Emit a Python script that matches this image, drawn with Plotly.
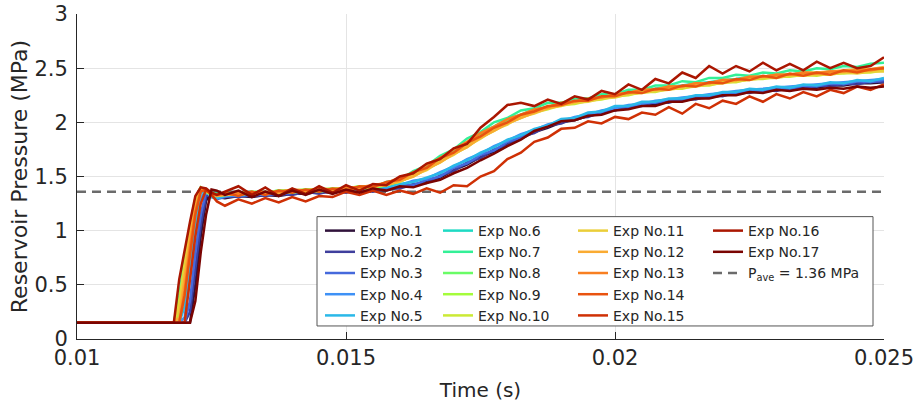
import plotly.graph_objects as go
import plotly.express as px
from plotly.colors import sample_colorscale

# ---------------- data ----------------
TIME = [0.0100, 0.0118, 0.0119, 0.0120, 0.0121, 0.0122, 0.0123, 0.0124, 0.0125, 0.0126,
        0.01275, 0.01300, 0.01325, 0.01350, 0.01375, 0.01400, 0.01425, 0.01450, 0.01475, 0.01500,
        0.01525, 0.01550, 0.01575, 0.01600, 0.01625, 0.01650, 0.01675, 0.01700, 0.01725, 0.01750,
        0.01775, 0.01800, 0.01825, 0.01850, 0.01875, 0.01900, 0.01925, 0.01950, 0.01975, 0.02000,
        0.02025, 0.02050, 0.02075, 0.02100, 0.02125, 0.02150, 0.02175, 0.02200, 0.02225, 0.02250,
        0.02275, 0.02300, 0.02325, 0.02350, 0.02375, 0.02400, 0.02425, 0.02450, 0.02475, 0.02500]

EXP1 = [0.15, 0.15, 0.15, 0.15, 0.15, 0.50, 0.95, 1.28, 1.34, 1.31,
        1.30, 1.32, 1.31, 1.33, 1.32, 1.34, 1.34, 1.36, 1.35, 1.37, 1.36, 1.38, 1.37, 1.40, 1.41, 1.45, 1.49, 1.56, 1.61, 1.68,
        1.73, 1.80, 1.85, 1.91, 1.95, 2.00, 2.02, 2.06, 2.08, 2.12, 2.13, 2.16, 2.17, 2.19, 2.20, 2.22, 2.23, 2.25, 2.26, 2.28,
        2.28, 2.30, 2.30, 2.32, 2.32, 2.34, 2.34, 2.36, 2.36, 2.37]
EXP2 = [0.15, 0.15, 0.15, 0.15, 0.25, 0.65, 1.05, 1.32, 1.33, 1.30,
        1.32, 1.31, 1.33, 1.32, 1.34, 1.33, 1.36, 1.34, 1.37, 1.35, 1.38, 1.36, 1.39, 1.39, 1.43, 1.44, 1.51, 1.55, 1.63, 1.67,
        1.75, 1.79, 1.87, 1.90, 1.97, 1.99, 2.04, 2.05, 2.10, 2.11, 2.15, 2.15, 2.19, 2.18, 2.22, 2.21, 2.25, 2.24, 2.28, 2.27,
        2.30, 2.29, 2.32, 2.31, 2.34, 2.33, 2.36, 2.35, 2.38, 2.37]
EXP3 = [0.15, 0.15, 0.15, 0.15, 0.35, 0.80, 1.15, 1.36, 1.32, 1.29,
        1.31, 1.33, 1.32, 1.34, 1.33, 1.35, 1.35, 1.37, 1.36, 1.38, 1.37, 1.39, 1.38, 1.42, 1.42, 1.47, 1.50, 1.58, 1.62, 1.70,
        1.74, 1.82, 1.86, 1.93, 1.96, 2.02, 2.03, 2.08, 2.09, 2.14, 2.14, 2.18, 2.18, 2.21, 2.21, 2.24, 2.24, 2.27, 2.27, 2.30,
        2.29, 2.32, 2.31, 2.34, 2.33, 2.36, 2.35, 2.38, 2.37, 2.39]
EXP4 = [0.15, 0.15, 0.15, 0.20, 0.55, 0.95, 1.30, 1.37, 1.31, 1.30,
        1.33, 1.32, 1.34, 1.33, 1.35, 1.35, 1.37, 1.36, 1.38, 1.37, 1.39, 1.38, 1.41, 1.42, 1.46, 1.48, 1.54, 1.59, 1.66, 1.71,
        1.78, 1.83, 1.89, 1.93, 1.98, 2.01, 2.05, 2.07, 2.11, 2.13, 2.16, 2.17, 2.20, 2.21, 2.23, 2.24, 2.26, 2.27, 2.29, 2.30,
        2.31, 2.32, 2.33, 2.34, 2.35, 2.36, 2.37, 2.38, 2.39, 2.40]
EXP5 = [0.15, 0.15, 0.15, 0.30, 0.70, 1.05, 1.35, 1.36, 1.31, 1.30,
        1.32, 1.34, 1.33, 1.35, 1.34, 1.36, 1.36, 1.38, 1.37, 1.39, 1.38, 1.40, 1.40, 1.43, 1.45, 1.49, 1.53, 1.60, 1.65, 1.72,
        1.77, 1.84, 1.88, 1.94, 1.97, 2.03, 2.04, 2.09, 2.10, 2.15, 2.15, 2.19, 2.19, 2.22, 2.22, 2.25, 2.25, 2.28, 2.28, 2.31,
        2.30, 2.33, 2.32, 2.35, 2.34, 2.37, 2.36, 2.39, 2.38, 2.41]
EXP6 = [0.15, 0.15, 0.20, 0.50, 0.90, 1.20, 1.38, 1.36, 1.33, 1.32,
        1.33, 1.35, 1.34, 1.36, 1.35, 1.37, 1.36, 1.38, 1.37, 1.39, 1.39, 1.41, 1.42, 1.47, 1.52, 1.59, 1.66, 1.74, 1.81, 1.90,
        1.96, 2.03, 2.07, 2.12, 2.14, 2.18, 2.19, 2.22, 2.23, 2.26, 2.27, 2.30, 2.31, 2.33, 2.34, 2.36, 2.37, 2.39, 2.40, 2.42,
        2.42, 2.44, 2.44, 2.46, 2.45, 2.47, 2.47, 2.49, 2.48, 2.50]
EXP7 = [0.15, 0.15, 0.40, 0.75, 1.05, 1.30, 1.40, 1.37, 1.35, 1.34,
        1.35, 1.34, 1.36, 1.35, 1.37, 1.36, 1.38, 1.37, 1.39, 1.38, 1.41, 1.40, 1.45, 1.47, 1.55, 1.60, 1.69, 1.75, 1.85, 1.91,
        2.00, 2.04, 2.11, 2.13, 2.18, 2.18, 2.22, 2.22, 2.26, 2.26, 2.30, 2.30, 2.34, 2.34, 2.38, 2.37, 2.41, 2.41, 2.44, 2.43,
        2.46, 2.45, 2.48, 2.47, 2.50, 2.49, 2.52, 2.51, 2.54, 2.55]
EXP8 = [0.15, 0.15, 0.30, 0.65, 0.98, 1.25, 1.39, 1.36, 1.33, 1.33,
        1.34, 1.33, 1.35, 1.34, 1.36, 1.35, 1.37, 1.36, 1.38, 1.37, 1.39, 1.39, 1.42, 1.45, 1.51, 1.57, 1.65, 1.72, 1.80, 1.88,
        1.95, 2.01, 2.06, 2.10, 2.13, 2.16, 2.18, 2.20, 2.22, 2.24, 2.26, 2.28, 2.30, 2.31, 2.33, 2.35, 2.36, 2.38, 2.39, 2.41,
        2.42, 2.43, 2.44, 2.45, 2.46, 2.46, 2.47, 2.48, 2.49, 2.50]
EXP9 = [0.15, 0.15, 0.25, 0.60, 0.95, 1.25, 1.39, 1.36, 1.34, 1.33,
        1.35, 1.34, 1.36, 1.35, 1.37, 1.37, 1.38, 1.38, 1.39, 1.39, 1.41, 1.41, 1.44, 1.46, 1.52, 1.57, 1.65, 1.71, 1.79, 1.86,
        1.94, 1.99, 2.06, 2.09, 2.14, 2.16, 2.19, 2.20, 2.23, 2.24, 2.27, 2.28, 2.30, 2.31, 2.33, 2.34, 2.36, 2.37, 2.39, 2.40,
        2.42, 2.42, 2.44, 2.44, 2.45, 2.45, 2.47, 2.46, 2.48, 2.48]
EXP10 = [0.15, 0.15, 0.35, 0.70, 1.00, 1.28, 1.39, 1.36, 1.33, 1.32,
         1.33, 1.35, 1.34, 1.35, 1.35, 1.37, 1.36, 1.38, 1.37, 1.39, 1.39, 1.41, 1.42, 1.46, 1.50, 1.57, 1.63, 1.71, 1.77, 1.86,
         1.92, 1.99, 2.04, 2.09, 2.12, 2.16, 2.17, 2.20, 2.21, 2.24, 2.25, 2.28, 2.28, 2.31, 2.31, 2.34, 2.34, 2.37, 2.37, 2.40,
         2.40, 2.42, 2.42, 2.44, 2.43, 2.45, 2.45, 2.46, 2.46, 2.48]
EXP11 = [0.15, 0.15, 0.30, 0.65, 1.00, 1.30, 1.40, 1.37, 1.34, 1.33,
         1.34, 1.33, 1.35, 1.34, 1.36, 1.36, 1.37, 1.37, 1.38, 1.38, 1.40, 1.40, 1.43, 1.45, 1.51, 1.56, 1.64, 1.70, 1.78, 1.85,
         1.93, 1.98, 2.05, 2.08, 2.13, 2.15, 2.18, 2.19, 2.22, 2.23, 2.26, 2.27, 2.29, 2.30, 2.32, 2.33, 2.35, 2.36, 2.38, 2.39,
         2.41, 2.41, 2.43, 2.43, 2.44, 2.44, 2.46, 2.45, 2.47, 2.47]
EXP12 = [0.15, 0.15, 0.20, 0.55, 0.92, 1.22, 1.38, 1.37, 1.34, 1.32,
         1.33, 1.34, 1.34, 1.35, 1.35, 1.36, 1.37, 1.37, 1.38, 1.39, 1.39, 1.41, 1.42, 1.46, 1.50, 1.57, 1.63, 1.71, 1.77, 1.86,
         1.92, 1.99, 2.04, 2.09, 2.13, 2.16, 2.19, 2.21, 2.23, 2.26, 2.27, 2.30, 2.30, 2.33, 2.33, 2.36, 2.36, 2.39, 2.39, 2.42,
         2.42, 2.44, 2.44, 2.46, 2.46, 2.47, 2.48, 2.49, 2.49, 2.51]
EXP13 = [0.15, 0.15, 0.15, 0.45, 0.85, 1.18, 1.37, 1.37, 1.34, 1.33,
         1.34, 1.35, 1.35, 1.36, 1.36, 1.38, 1.37, 1.39, 1.38, 1.40, 1.40, 1.42, 1.44, 1.49, 1.53, 1.61, 1.67, 1.75, 1.82, 1.90,
         1.96, 2.03, 2.07, 2.12, 2.14, 2.18, 2.19, 2.22, 2.23, 2.26, 2.27, 2.30, 2.30, 2.33, 2.33, 2.36, 2.36, 2.39, 2.39, 2.42,
         2.42, 2.44, 2.44, 2.46, 2.45, 2.47, 2.47, 2.48, 2.48, 2.50]
EXP14 = [0.15, 0.15, 0.15, 0.40, 0.80, 1.15, 1.36, 1.38, 1.35, 1.33,
         1.35, 1.32, 1.36, 1.33, 1.37, 1.35, 1.38, 1.36, 1.39, 1.37, 1.41, 1.40, 1.45, 1.47, 1.54, 1.58, 1.67, 1.72, 1.81, 1.87,
         1.95, 2.00, 2.07, 2.10, 2.15, 2.16, 2.20, 2.20, 2.24, 2.24, 2.28, 2.27, 2.31, 2.30, 2.34, 2.33, 2.37, 2.36, 2.40, 2.39,
         2.43, 2.41, 2.45, 2.43, 2.46, 2.44, 2.48, 2.46, 2.49, 2.50]
EXP15 = [0.15, 0.15, 0.15, 0.15, 0.55, 0.95, 1.25, 1.38, 1.33, 1.27,
         1.23, 1.29, 1.25, 1.30, 1.26, 1.31, 1.27, 1.32, 1.31, 1.36, 1.33, 1.37, 1.33, 1.37, 1.34, 1.39, 1.35, 1.42, 1.41, 1.50,
         1.55, 1.66, 1.72, 1.82, 1.86, 1.94, 1.95, 2.01, 1.99, 2.05, 2.03, 2.09, 2.07, 2.14, 2.08, 2.17, 2.13, 2.20, 2.17, 2.24,
         2.19, 2.26, 2.22, 2.28, 2.24, 2.30, 2.27, 2.33, 2.30, 2.35]
EXP16 = [0.15, 0.15, 0.55, 0.82, 1.08, 1.32, 1.40, 1.39, 1.35, 1.33,
         1.36, 1.41, 1.33, 1.40, 1.32, 1.39, 1.34, 1.41, 1.35, 1.42, 1.37, 1.43, 1.42, 1.50, 1.53, 1.62, 1.66, 1.76, 1.80, 1.95,
         2.05, 2.16, 2.18, 2.15, 2.21, 2.17, 2.24, 2.21, 2.29, 2.26, 2.35, 2.30, 2.40, 2.36, 2.46, 2.41, 2.52, 2.45, 2.52, 2.47,
         2.55, 2.48, 2.54, 2.48, 2.56, 2.50, 2.55, 2.50, 2.52, 2.60]
EXP17 = [0.15, 0.15, 0.15, 0.15, 0.15, 0.35, 0.80, 1.15, 1.38, 1.37,
         1.33, 1.37, 1.31, 1.36, 1.32, 1.37, 1.33, 1.38, 1.34, 1.38, 1.35, 1.39, 1.37, 1.41, 1.40, 1.44, 1.47, 1.53, 1.58, 1.65,
         1.71, 1.78, 1.84, 1.92, 1.96, 2.01, 2.02, 2.06, 2.07, 2.11, 2.12, 2.15, 2.15, 2.19, 2.19, 2.22, 2.22, 2.25, 2.25, 2.28,
         2.27, 2.30, 2.29, 2.31, 2.30, 2.32, 2.31, 2.33, 2.32, 2.33]

SERIES = [EXP1, EXP2, EXP3, EXP4, EXP5, EXP6, EXP7, EXP8, EXP9, EXP10,
          EXP11, EXP12, EXP13, EXP14, EXP15, EXP16, EXP17]
LABELS = ["Exp No.%d" % i for i in range(1, 18)]
P_AVE = 1.36
P_AVE_LABEL = "P<sub>ave</sub> = 1.36 MPa"
X_RANGE = [0.01, 0.025]
X_TICKS = [0.01, 0.015, 0.02, 0.025]
X_TICK_TEXT = ["0.01", "0.015", "0.02", "0.025"]
Y_RANGE = [0, 3]
Y_TICKS = [0, 0.5, 1, 1.5, 2, 2.5, 3]
Y_TICK_TEXT = ["0", "0.5", "1", "1.5", "2", "2.5", "3"]

for s in SERIES:
    assert len(s) == len(TIME), len(s)

# ---------------- figure ----------------
FONT = "DejaVu Sans"
TXT = "#262626"
EPS_X = 1e-7
EPS_Y = 1e-4
colors = sample_colorscale(px.colors.sequential.Turbo, len(SERIES))
legend_names = ["legend", "legend", "legend", "legend", "legend",
                "legend2", "legend2", "legend2", "legend2", "legend2",
                "legend3", "legend3", "legend3", "legend3", "legend3",
                "legend4", "legend4"]

fig = go.Figure()
# average pressure line (drawn beneath the experiments, listed last in its legend column)
fig.add_trace(go.Scatter(x=[X_RANGE[0], X_RANGE[1]], y=[P_AVE, P_AVE], mode="lines",
                         name=P_AVE_LABEL, legend="legend4", legendrank=100,
                         line=dict(color="#6b6b6b", width=2.5, dash="9px,6px")))
for i, (s, lab) in enumerate(zip(SERIES, LABELS)):
    fig.add_trace(go.Scatter(x=TIME, y=s, mode="lines", name=lab,
                             legend=legend_names[i], legendrank=i + 1,
                             line=dict(color=colors[i], width=2.5)))

# plot area: x 77..884, y 14..339 px
PL, PR = 77, 884
leg_common = dict(yanchor="top", xanchor="left", orientation="v",
                  bgcolor="rgba(0,0,0,0)", borderwidth=0, itemwidth=30,
                  font=dict(family=FONT, size=14, color=TXT), tracegroupgap=0)
LEG_Y = 0.3815
W = PR - PL
fig.update_layout(
    legend=dict(x=(320 - PL) / W, y=LEG_Y, **leg_common),
    legend2=dict(x=(438 - PL) / W, y=LEG_Y, **leg_common),
    legend3=dict(x=(573 - PL) / W, y=LEG_Y, **leg_common),
    legend4=dict(x=(708 - PL) / W, y=LEG_Y, **leg_common),
)

fig.add_shape(type="rect", xref="paper", yref="paper",
              x0=(317 - PL) / W, x1=(873 - PL) / W, y0=0.0401, y1=0.3765,
              line=dict(color="#555555", width=1), fillcolor="white", layer="above")

axis_common = dict(showline=True, linecolor=TXT, linewidth=1, ticks="inside", ticklen=7,
                   tickcolor=TXT, tickwidth=1, showgrid=True, gridcolor="#e4e4e4", gridwidth=1,
                   zeroline=False, automargin=False, ticklabeloverflow="allow",
                   tickfont=dict(family=FONT, size=21, color=TXT))
fig.update_xaxes(range=[X_RANGE[0] - EPS_X, X_RANGE[1] + EPS_X], tickmode="array",
                 tickvals=X_TICKS, ticktext=X_TICK_TEXT,
                 title=dict(text="Time (s)", font=dict(family=FONT, size=20, color=TXT), standoff=13),
                 **axis_common)
fig.update_yaxes(range=[Y_RANGE[0], Y_RANGE[1] + EPS_Y], tickmode="array",
                 tickvals=Y_TICKS, ticktext=Y_TICK_TEXT,
                 ticklabelstandoff=4,
                 title=dict(text="Reservoir Pressure (MPa)", font=dict(family=FONT, size=22, color=TXT), standoff=0),
                 **axis_common)

fig.update_layout(width=917, height=403, margin=dict(l=PL, r=917 - PR, t=14, b=64),
                  plot_bgcolor="white", paper_bgcolor="white",
                  font=dict(family=FONT, color=TXT), showlegend=True)

fig.write_html("out.html", config={"displayModeBar": False})
